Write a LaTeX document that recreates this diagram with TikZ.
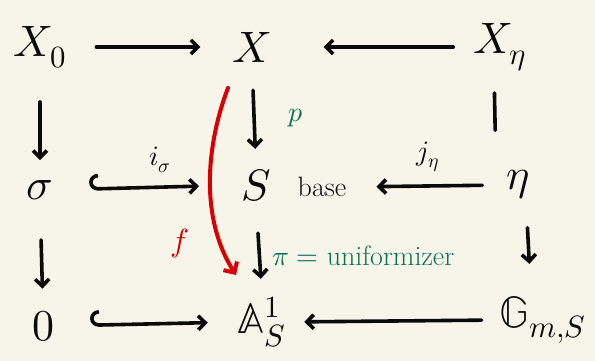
\documentclass[tikz,border=0pt]{standalone}
\usepackage{unicode-math}
\usetikzlibrary{arrows.meta}
\definecolor{paper}{HTML}{F7F5EA}
\definecolor{ink}{HTML}{0A0A0A}
\definecolor{grn}{HTML}{0B7153}
\definecolor{rd}{HTML}{D80000}
\begin{document}
\begin{tikzpicture}[x=1pt,y=-1pt,
  obj/.style={font=\fontsize{44}{48}\selectfont, inner sep=0pt, text=ink},
  small/.style={font=\fontsize{28}{32}\selectfont, inner sep=0pt, text=ink},
  glbl/.style={font=\fontsize{28}{32}\selectfont, inner sep=0pt, text=grn},
  rlbl/.style={font=\fontsize{32}{36}\selectfont, inner sep=0pt, text=rd},
  line/.style={line width=3.6pt, line cap=round, draw=ink},
  arr/.style={line, -{Straight Barb[length=7pt,width=14pt,line width=3.6pt]}},
  hookarr/.style={line, {Hooks[right,arc=180,length=9pt,width=30pt]}-{Straight Barb[length=7pt,width=14pt]}},
  redarr/.style={line width=4pt, line cap=round, draw=rd, -{Straight Barb[length=8pt,width=16pt]}}
]
\fill[paper] (0,0) rectangle (595,361);
\useasboundingbox (0,0) rectangle (595,361);

% objects
\node[obj] (X0) at (40,47) {$X_0$};
\node[obj] (X) at (252,47) {$X$};
\node[obj] (Xeta) at (500,47) {$X_\eta$};
\node[obj] (sig) at (40,190) {$\sigma$};
\node[obj] (S) at (256,185) {$S$};
\node[small] (base) at (322,187) {base};
\node[obj] (eta) at (518,185) {$\eta$};
\node[obj] (zero) at (43,326) {$0$};
\node[obj] (A) at (262,322) {$\mathbb{A}^1_S$};
\node[obj] (G) at (543,320) {$\mathbb{G}_{m,S}$};

% horizontal arrows
\draw[arr, shorten <=30pt, shorten >=32pt] (X0.east) -- (X.west);
\draw[arr, shorten <=20pt, shorten >=52pt] (Xeta.west) -- (X.east);
\draw[hookarr, shorten <=36pt, shorten >=42pt] (sig.east) -- (S.west);
\draw[arr, shorten <=24pt, shorten >=30pt] (eta.west) -- (base.east);
\draw[hookarr, shorten <=36pt, shorten >=30pt] (zero.east) -- (A.west);
\draw[arr, shorten <=18pt, shorten >=18pt] (G.west) -- (A.east);
\node[small] (isig) at (160,160) {$i_\sigma$};
\node[small] (jeta) at (428,157) {$j_\eta$};

% vertical arrows
\draw[arr, shorten <=34pt, shorten >=20pt] (X0.south) -- (sig.north);
\draw[arr, shorten <=40pt, shorten >=22pt] (sig.south) -- (zero.north);
\draw[arr, shorten <=28pt, shorten >=20pt] (X.south) -- (S.north);
\draw[arr, shorten <=32pt, shorten >=18pt] (S.south) -- (A.north);
\draw[line, shorten <=22pt, shorten >=40pt] ([xshift=-6pt]Xeta.south) -- ([xshift=-22pt]eta.north);
\draw[arr, shorten <=28pt, shorten >=32pt] ([xshift=8pt]eta.south) -- ([xshift=-12pt]G.north);
\node[glbl] (p) at (296,118) {$p$};
\node[glbl, anchor=west] (pi) at (272,256) {$\pi=$ uniformizer};

% red map f
\coordinate (fs) at (228,88);
\coordinate (fe) at (236,275);
\draw[redarr] (fs) .. controls (208,140) and (198,215) .. (fe);
\node[rlbl] (f) at (180,243) {$f$};
\end{tikzpicture}
\end{document}
